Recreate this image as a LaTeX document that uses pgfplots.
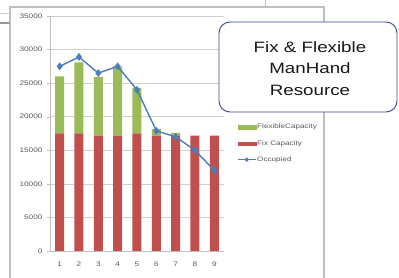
\documentclass[border=0pt]{standalone}
\usepackage{fontspec}
\setmainfont[FakeStretch=1.25]{Liberation Sans}
\usepackage{pgfplots}
\pgfplotsset{compat=1.18}
\usepackage{pgfplotstable}
\definecolor{flexgreen}{HTML}{9BBB59}
\definecolor{fixred}{HTML}{C0504D}
\definecolor{occblue}{HTML}{4A7EBB}
\definecolor{framegray}{HTML}{BFBFBF}
\definecolor{gridgray}{HTML}{D0D0D0}
\definecolor{textgray}{HTML}{595959}
\definecolor{boxblue}{HTML}{3A4596}
\pgfplotstableread{
x fix flex occ
1 17500 8500 27500
2 17500 10600 28900
3 17200 8700 26500
4 17200 10300 27500
5 17500 6800 24000
6 17200 1000 17900
7 17200 400 17000
8 17200 0 15000
9 17200 0 12000
}\datatable
\begin{document}
\begin{tikzpicture}
\useasboundingbox (0pt,0pt) rectangle (399pt,278pt);
\fill[white] (0pt,0pt) rectangle (399pt,278pt);
\draw[framegray, line width=1.2pt] (10pt,0pt) -- (10pt,271pt) -- (324pt,271pt) -- (324pt,0pt);
\draw[gray!80, line width=1.6pt] (0pt,255pt) -- (10pt,255pt);
\draw[gray!40, line width=0.6pt] (0pt,265pt) -- (10pt,265pt);
\draw[framegray, line width=0.8pt] (265pt,278pt) -- (265pt,271pt);
\begin{axis}[
  at={(50pt,27pt)}, anchor=south west,
  scale only axis, width=174pt, height=235pt,
  xmin=0.5, xmax=9.5, ymin=0, ymax=35000,
  axis x line*=bottom, axis y line*=left,
  axis line style={framegray, -},
  xtick={1,...,9},
  ytick={0,5000,...,35000},
  scaled y ticks=false,
  major x tick style={draw=none},
  extra x ticks={0.5,1.5,...,9.5},
  extra x tick labels={},
  extra x tick style={major tick length=3pt, tick style={framegray}, tick align=outside, grid=none},
  ytick style={framegray},
  tick align=outside,
  major tick length=3pt,
  ymajorgrids,
  grid style={gridgray, line width=0.6pt},
  /pgf/number format/assume math mode=true,
  /pgf/number format/1000 sep={},
  tick label style={font=\fontsize{6.6}{8}\selectfont, text=textgray},
  xticklabel style={yshift=-4pt},
  yticklabel style={xshift=-1pt},
  ybar stacked,
  bar width=9pt,
  legend style={at={(1.075,0.545)}, anchor=north west, draw=none, fill=none,
    font=\fontsize{6.5}{8}\selectfont, text=textgray, inner sep=0pt,
    row sep=8pt, legend cell align=left,
    nodes={inner sep=1pt}},
]
\addlegendimage{legend image code/.code={\fill[flexgreen] (0pt,-1.6pt) rectangle (18pt,1.6pt);}}
\addlegendentry{FlexibleCapacity}
\addlegendimage{legend image code/.code={\fill[fixred] (0pt,-1.6pt) rectangle (18pt,1.6pt);}}
\addlegendentry{Fix Capacity}
\addlegendimage{legend image code/.code={\draw[occblue, line width=1pt] (0pt,0pt) -- (18pt,0pt); \pgfpathmoveto{\pgfpoint{9pt}{2.2pt}}\pgfpathlineto{\pgfpoint{11.2pt}{0pt}}\pgfpathlineto{\pgfpoint{9pt}{-2.2pt}}\pgfpathlineto{\pgfpoint{6.8pt}{0pt}}\pgfpathclose\pgfsetfillcolor{occblue}\pgfusepath{fill};}}
\addlegendentry{Occupied}
\addplot[fill=fixred, draw=none] table[x=x, y=fix] {\datatable};
\addplot[fill=flexgreen, draw=none] table[x=x, y=flex] {\datatable};
\end{axis}
\begin{axis}[
  at={(50pt,27pt)}, anchor=south west,
  scale only axis, width=174pt, height=235pt,
  xmin=0.5, xmax=9.5, ymin=0, ymax=35000,
  hide axis,
]
\addplot[occblue, line width=1.4pt, mark=diamond*, mark size=2.8pt] table[x=x, y=occ] {\datatable};
\end{axis}
\draw[boxblue, line width=0.9pt, rounded corners=11pt, fill=white] (219pt,166pt) rectangle (397pt,256pt);
\node[align=center, font=\fontsize{15}{21.5}\selectfont, text=black!90] at (310pt,209.5pt) {Fix \& Flexible\\ManHand\\Resource};
\end{tikzpicture}
\end{document}
